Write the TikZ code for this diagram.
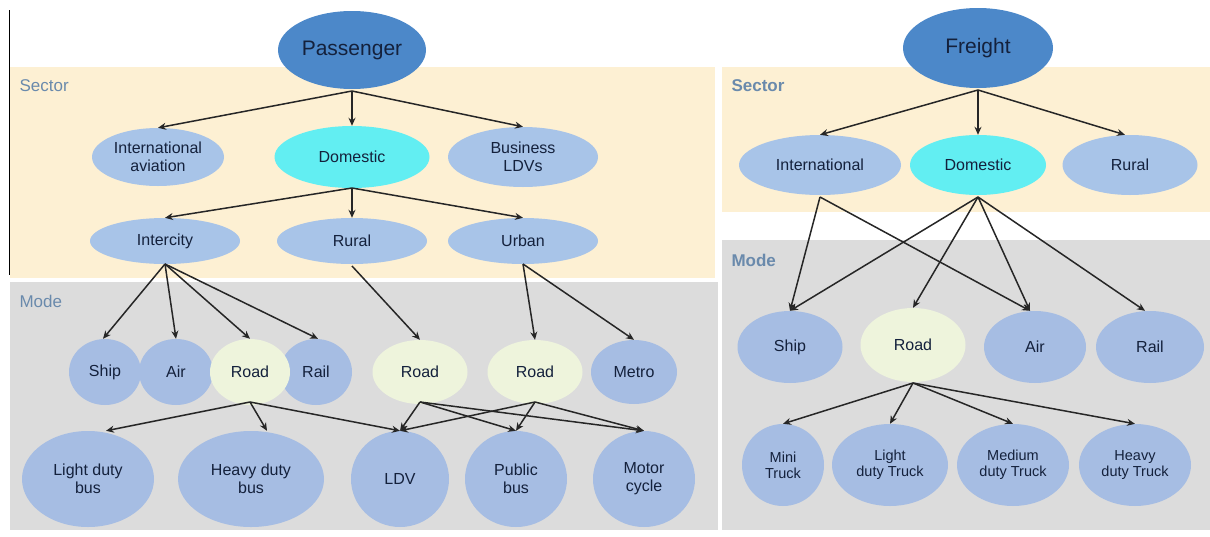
\documentclass[tikz,border=0pt]{standalone}
\usepackage{fontspec}
\setmainfont{Liberation Sans}
\usetikzlibrary{shapes.geometric,arrows.meta}
\definecolor{secbg}{HTML}{FDF0D3}
\definecolor{modebg}{HTML}{DCDCDC}
\definecolor{topblue}{HTML}{4C88C9}
\definecolor{lightblue}{HTML}{A8C4E8}
\definecolor{modeblue}{HTML}{A6BDE3}
\definecolor{cyanfill}{HTML}{62EEF2}
\definecolor{roadfill}{HTML}{EEF4DC}
\definecolor{txt}{HTML}{14213C}
\definecolor{panellabel}{HTML}{6A8AAC}
\tikzset{
  el/.style={ellipse, inner sep=0pt, align=center, text=txt, font=\fontsize{16}{18}\selectfont},
  top/.style={el, fill=topblue, font=\fontsize{21}{24}\selectfont},
  sec/.style={el, fill=lightblue},
  dom/.style={el, fill=cyanfill},
  md/.style={el, fill=modeblue},
  road/.style={el, fill=roadfill},
  sm/.style={el, fill=modeblue, font=\fontsize{14.5}{16}\selectfont},
  lab/.style={anchor=west, text=panellabel, font=\fontsize{17}{20}\selectfont},
  arr/.style={draw=black!85, line width=1.5pt, -{Stealth[length=8pt,width=7pt]}}
}
\begin{document}
\begin{tikzpicture}[x=1pt,y=-1pt]
\useasboundingbox (0,0) rectangle (1210,536);
% panels
\fill[secbg] (10,67) rectangle (715,278);
\fill[modebg] (10,282) rectangle (718,530);
\fill[secbg] (722,67) rectangle (1210,212);
\fill[modebg] (722,240) rectangle (1210,530);
\draw[line width=1pt] (9,10) -- (9,275);
\node[lab] (ls) at (16,86) {Sector};
\node[lab] (lm) at (16,301) {Mode};
\node[lab, font=\bfseries\fontsize{17}{20}\selectfont] (rs) at (728,86) {Sector};
\node[lab, font=\bfseries\fontsize{17}{20}\selectfont] (rm) at (728,260) {Mode};

% ---------- Passenger ----------
\node[top, minimum width=148pt, minimum height=78pt] (P) at (352,50) {Passenger};
\node[sec, minimum width=132pt, minimum height=58pt] (IA) at (158,157) {International\\aviation};
\node[dom, minimum width=155pt, minimum height=62pt] (PD) at (352,157) {Domestic};
\node[sec, minimum width=150pt, minimum height=60pt] (BL) at (523,157) {Business\\LDVs};
\node[sec, minimum width=150pt, minimum height=46pt] (IC) at (165,241) {Intercity};
\node[sec, minimum width=150pt, minimum height=46pt] (RU) at (352,241) {Rural};
\node[sec, minimum width=150pt, minimum height=46pt] (UR) at (523,241) {Urban};

\node[md, minimum width=72pt, minimum height=66pt] (SH) at (105,372) {Ship};
\node[md, minimum width=74pt, minimum height=66pt] (AI) at (176,372) {Air};
\node[md, minimum width=72pt, minimum height=66pt] (RA) at (316,372) {Rail};
\node[road, minimum width=80pt, minimum height=66pt] (R1) at (250,372) {Road};
\node[road, minimum width=95pt, minimum height=64pt] (R2) at (420,372) {Road};
\node[md, minimum width=86pt, minimum height=64pt] (ME) at (634,372) {Metro};
\node[road, minimum width=95pt, minimum height=64pt] (R3) at (535,372) {Road};

\node[md, minimum width=132pt, minimum height=96pt] (LB) at (88,479) {Light duty\\bus};
\node[md, minimum width=146pt, minimum height=96pt] (HB) at (251,479) {Heavy duty\\bus};
\node[md, minimum width=98pt, minimum height=96pt] (LDV) at (400,479) {LDV};
\node[md, minimum width=102pt, minimum height=96pt] (PB) at (516,479) {Public\\bus};
\node[md, minimum width=102pt, minimum height=96pt] (MC) at (644,479) {Motor\\cycle};

\coordinate (Ps) at (352,91);
\coordinate (PDs) at (352,188);
\coordinate (ICs) at (165,264);
\coordinate (RUs) at (352,266);
\coordinate (URs) at (523,264);
\coordinate (R1s) at (250,402);
\coordinate (R2s) at (420,402);
\coordinate (R3s) at (535,402);

\draw[arr] (Ps) -- (IA.north);
\draw[arr] (Ps) -- (PD.north);
\draw[arr] (Ps) -- (BL.north);
\draw[arr] (PDs) -- (IC.north);
\draw[arr] (PDs) -- (RU.north);
\draw[arr] (PDs) -- (UR.north);
\draw[arr] (ICs) -- ([xshift=-2pt]SH.north);
\draw[arr] (ICs) -- (AI.north);
\draw[arr] (ICs) -- (R1.north);
\draw[arr] (ICs) -- ([xshift=2pt]RA.north);
\draw[arr] (RUs) -- (R2.north);
\draw[arr] (URs) -- (R3.north);
\draw[arr] (URs) -- (ME.north);
\draw[arr] (R1s) -- ([xshift=18pt]LB.north);
\draw[arr] (R1s) -- ([xshift=16pt]HB.north);
\draw[arr] (R1s) -- (LDV.north);
\draw[arr] (R2s) -- (LDV.north);
\draw[arr] (R2s) -- (PB.north);
\draw[arr] (R2s) -- (MC.north);
\draw[arr] (R3s) -- (LDV.north);
\draw[arr] (R3s) -- (PB.north);
\draw[arr] (R3s) -- (MC.north);

% ---------- Freight ----------
\node[top, minimum width=150pt, minimum height=80pt] (F) at (978,48) {Freight};
\node[sec, minimum width=162pt, minimum height=60pt] (FI) at (820,165) {International};
\node[dom, minimum width=136pt, minimum height=60pt] (FD) at (978,165) {Domestic};
\node[sec, minimum width=135pt, minimum height=60pt] (FR) at (1130,165) {Rural};

\node[md, minimum width=105pt, minimum height=72pt] (FS) at (790,347) {Ship};
\node[road, minimum width=105pt, minimum height=74pt] (FRo) at (913,345) {Road};
\node[md, minimum width=102pt, minimum height=72pt] (FA) at (1035,347) {Air};
\node[md, minimum width=108pt, minimum height=72pt] (FRa) at (1150,347) {Rail};

\node[sm, minimum width=82pt, minimum height=82pt] (MT) at (783,465) {Mini\\Truck};
\node[sm, minimum width=116pt, minimum height=82pt] (LT) at (890,465) {Light\\duty Truck};
\node[sm, minimum width=112pt, minimum height=82pt] (MDT) at (1013,465) {Medium\\duty Truck};
\node[sm, minimum width=112pt, minimum height=82pt] (HT) at (1135,465) {Heavy\\duty Truck};

\coordinate (Fs) at (978,90);
\coordinate (FIs) at (820,197);
\coordinate (FDs) at (978,197);
\coordinate (FRos) at (913,383);

\draw[arr] (Fs) -- (FI.north);
\draw[arr] (Fs) -- (FD.north);
\draw[arr] (Fs) -- ([xshift=-5pt]FR.north);
\draw[arr] (FIs) -- (FS.north);
\draw[arr] (FIs) -- ([xshift=-5pt]FA.north);
\draw[arr] (FDs) -- (FS.north);
\draw[arr] (FDs) -- (FRo.north);
\draw[arr] (FDs) -- ([xshift=-5pt]FA.north);
\draw[arr] (FDs) -- ([xshift=-5pt]FRa.north);
\draw[arr] (FRos) -- (MT.north);
\draw[arr] (FRos) -- (LT.north);
\draw[arr] (FRos) -- (MDT.north);
\draw[arr] (FRos) -- (HT.north);
\end{tikzpicture}
\end{document}
